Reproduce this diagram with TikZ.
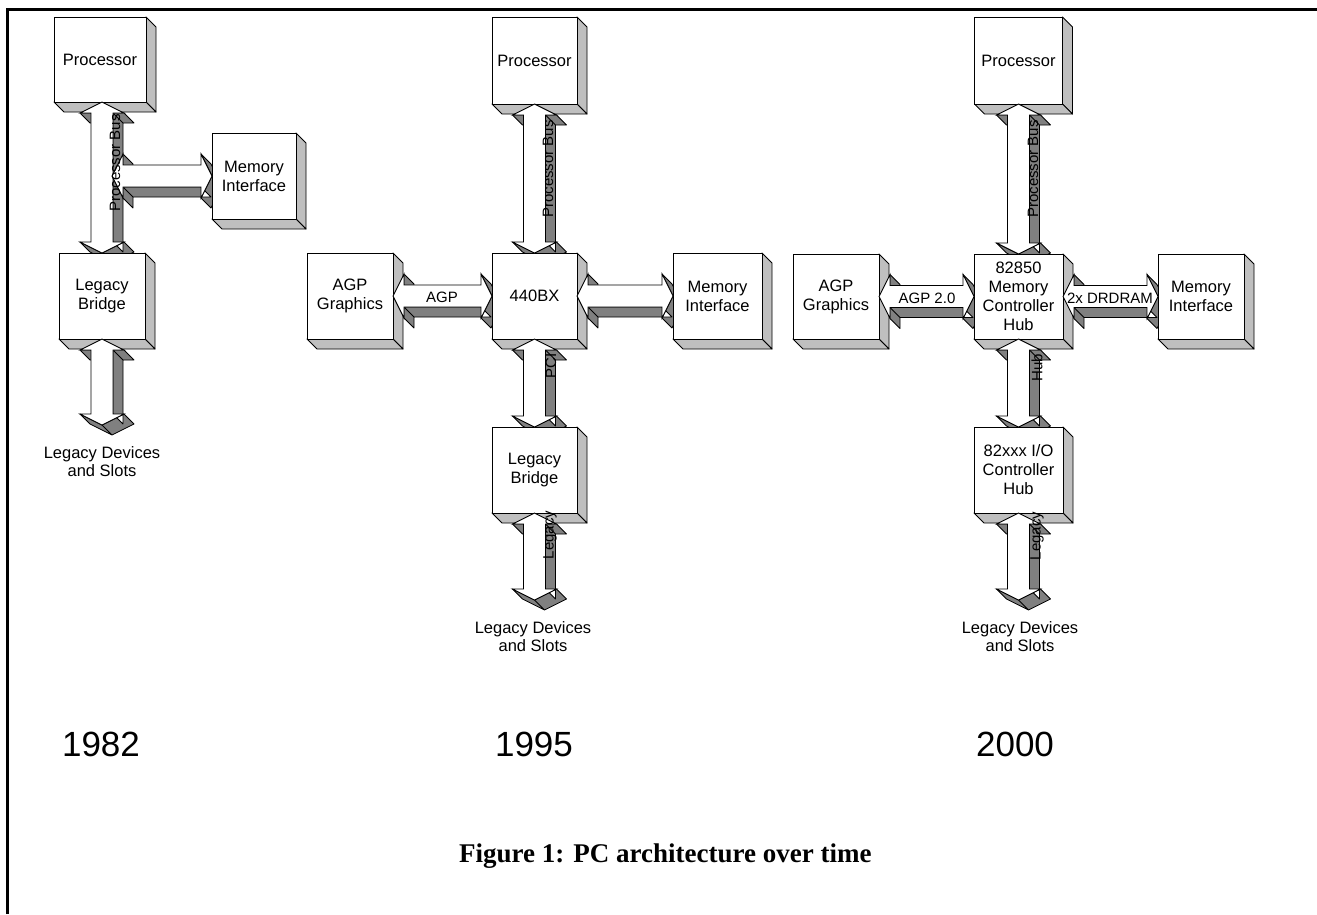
\documentclass[tikz,border=0pt]{standalone}
\usepackage{fontspec}
\setmainfont{Liberation Sans}
\newfontfamily\capfont{Liberation Serif}
\usetikzlibrary{calc}
\pgfdeclarelayer{back}\pgfdeclarelayer{bg}\pgfdeclarelayer{ext}\pgfdeclarelayer{fg}\pgfdeclarelayer{lbl}
\pgfsetlayers{back,bg,ext,main,fg,lbl}
\tikzset{
 pcbox/.style={draw, fill=white, line width=0.9pt, outer sep=0pt, inner sep=0pt, align=center, font=\fontsize{16.5}{19}\selectfont},
 side/.style={fill=black!25, draw=black, line width=0.9pt, line join=round},
 extr/.style={fill=black!50, draw=black, line width=0.8pt, line join=round},
 frontarrow/.style={fill=white, draw=black, line width=0.9pt, line join=miter},
 buslbl/.style={font=\fontsize{15}{17}\selectfont, inner sep=0pt},
 devlbl/.style={font=\fontsize{16.5}{18}\selectfont, align=center, inner sep=0pt},
 yearlbl/.style={font=\fontsize{35}{40}\selectfont, anchor=base, inner sep=0pt},
}
% 3D sides of a box node
\newcommand\boxsides[1]{%
 \begin{pgfonlayer}{bg}
 \filldraw[side] (#1.north east) -- ++(10pt,-10pt) -- ([shift={(10pt,-10pt)}]#1.south east) -- (#1.south east) -- cycle;
 \filldraw[side] (#1.south west) -- ++(10pt,-10pt) -- ([shift={(10pt,-10pt)}]#1.south east) -- (#1.south east) -- cycle;
 \end{pgfonlayer}}
% vertical 3D double arrow: #1 top end, #2 bottom end
\newcommand\vbus[2]{%
 \begin{pgfonlayer}{ext}
 \filldraw[extr] let \p1=(#1), \p2=(#2) in
  (\x2-22pt,\y1-11pt) -- (\x2-11pt,\y1-11pt) -- (\x2-1pt,\y1-21pt) -- (\x2-12pt,\y1-21pt) -- cycle
  (\x2+11pt,\y1-11pt) -- (\x2+22pt,\y1-11pt) -- (\x2+32pt,\y1-21pt) -- (\x2+21pt,\y1-21pt) -- cycle
  (\x2+11pt,\y1-11pt) -- (\x2+11pt,\y2+11pt) -- (\x2+21pt,\y2+1pt) -- (\x2+21pt,\y1-21pt) -- cycle
  (\x2-22pt,\y2+11pt) -- (\x2,\y2) -- (\x2+10pt,\y2-10pt) -- (\x2-12pt,\y2+1pt) -- cycle
  (\x2,\y2) -- (\x2+22pt,\y2+11pt) -- (\x2+32pt,\y2+1pt) -- (\x2+10pt,\y2-10pt) -- cycle;
 \end{pgfonlayer}
 \begin{pgfonlayer}{fg}
 \filldraw[frontarrow] let \p1=(#1), \p2=(#2) in
  (\x2,\y1) -- (\x2+22pt,\y1-11pt) -- (\x2+11pt,\y1-11pt) -- (\x2+11pt,\y2+11pt) -- (\x2+22pt,\y2+11pt)
  -- (\x2,\y2) -- (\x2-22pt,\y2+11pt) -- (\x2-11pt,\y2+11pt) -- (\x2-11pt,\y1-11pt) -- (\x2-22pt,\y1-11pt) -- cycle;
 \end{pgfonlayer}}
% horizontal 3D double arrow: #1 left end, #2 right end
\newcommand\hbus[2]{%
 \begin{pgfonlayer}{ext}
 \filldraw[extr] let \p1=(#1), \p2=(#2) in
  (\x1+11pt,\y2+22pt) -- (\x1+11pt,\y2+11pt) -- (\x1+21pt,\y2+1pt) -- (\x1+21pt,\y2+12pt) -- cycle
  (\x1+11pt,\y2-11pt) -- (\x1+11pt,\y2-22pt) -- (\x1+21pt,\y2-32pt) -- (\x1+21pt,\y2-21pt) -- cycle
  (\x1+11pt,\y2-11pt) -- (\x2-11pt,\y2-11pt) -- (\x2-1pt,\y2-21pt) -- (\x1+21pt,\y2-21pt) -- cycle
  (\x2-11pt,\y2+22pt) -- (\x2,\y2) -- (\x2+10pt,\y2-10pt) -- (\x2-1pt,\y2+12pt) -- cycle
  (\x2,\y2) -- (\x2-11pt,\y2-22pt) -- (\x2-1pt,\y2-32pt) -- (\x2+10pt,\y2-10pt) -- cycle;
 \end{pgfonlayer}
 \begin{pgfonlayer}{fg}
 \filldraw[frontarrow] let \p1=(#1), \p2=(#2) in
  (\x1,\y2) -- (\x1+11pt,\y2+22pt) -- (\x1+11pt,\y2+11pt) -- (\x2-11pt,\y2+11pt) -- (\x2-11pt,\y2+22pt)
  -- (\x2,\y2) -- (\x2-11pt,\y2-22pt) -- (\x2-11pt,\y2-11pt) -- (\x1+11pt,\y2-11pt) -- (\x1+11pt,\y2-22pt) -- cycle;
 \end{pgfonlayer}}

\begin{document}
\begin{tikzpicture}[x=1pt,y=-1pt]
\useasboundingbox (0,0) rectangle (1317,914);
\begin{pgfonlayer}{back}
\fill[white] (0,0) rectangle (1317,914);
\end{pgfonlayer}
% frame
\draw[line width=3pt] (7.5,914) -- (7.5,9.5) -- (1317,9.5);

% ---------------- 1982 ----------------
\node[pcbox, minimum width=92, minimum height=85] (proc1) at (100,59.5) {Processor};
\node[pcbox, minimum width=84, minimum height=86] (mem1) at (254,176) {Memory\\Interface};
\node[pcbox, minimum width=86, minimum height=86] (leg1) at (102,296) {Legacy\\Bridge};
\foreach \b in {proc1,mem1,leg1} {\boxsides{\b}}
\coordinate (pb1) at (112,176);
\coordinate (ld1) at (102,425);
\vbus{proc1.south}{leg1.north}
\hbus{pb1}{mem1.west}
\vbus{leg1.south}{ld1}
\begin{pgfonlayer}{lbl}
\node[buslbl, rotate=90] (lpb1) at (115,163) {Processor Bus};
\end{pgfonlayer}
\node[devlbl] (dev1) at (102,462) {Legacy Devices\\and Slots};
\node[yearlbl] (y1) at (101,756) {1982};

% ---------------- 1995 ----------------
\node[pcbox, minimum width=85, minimum height=87] (proc2) at (534.5,60.5) {Processor};
\node[pcbox, minimum width=86, minimum height=86] (agp2) at (350,296) {AGP\\Graphics};
\node[pcbox, minimum width=85, minimum height=86] (bx2) at (534.5,296) {440BX};
\node[pcbox, minimum width=89, minimum height=86] (mem2) at (717.5,296) {Memory\\Interface};
\node[pcbox, minimum width=85, minimum height=86] (leg2) at (534.5,470) {Legacy\\Bridge};
\foreach \b in {proc2,agp2,bx2,mem2,leg2} {\boxsides{\b}}
\coordinate (ld2) at (534.5,600);
\vbus{proc2.south}{bx2.north}
\hbus{agp2.east}{bx2.west}
\hbus{bx2.east}{mem2.west}
\vbus{bx2.south}{leg2.north}
\vbus{leg2.south}{ld2}
\begin{pgfonlayer}{lbl}
\node[buslbl, rotate=90] (lpb2) at (548,169) {Processor Bus};
\node[buslbl] (lagp2) at (442,297) {AGP};
\node[buslbl, rotate=90] (lpci2) at (551,366) {PCI};
\node[buslbl, rotate=90] (lleg2) at (550,535) {Legacy};
\end{pgfonlayer}
\node[devlbl] (dev2) at (533,637) {Legacy Devices\\and Slots};
\node[yearlbl] (y2) at (534,756) {1995};

% ---------------- 2000 ----------------
\node[pcbox, minimum width=88, minimum height=87] (proc3) at (1018.5,60.5) {Processor};
\node[pcbox, minimum width=86, minimum height=85] (agp3) at (836,296.5) {AGP\\Graphics};
\node[pcbox, minimum width=89, minimum height=85] (mch3) at (1018.5,296.5) {82850\\Memory\\Controller\\Hub};
\node[pcbox, minimum width=86, minimum height=85] (mem3) at (1201,296.5) {Memory\\Interface};
\node[pcbox, minimum width=89, minimum height=86] (ioh3) at (1018.5,470) {82xxx I/O\\Controller\\Hub};
\foreach \b in {proc3,agp3,mch3,mem3,ioh3} {\boxsides{\b}}
\coordinate (ld3) at (1018.5,600);
\vbus{proc3.south}{mch3.north}
\hbus{agp3.east}{mch3.west}
\hbus{mch3.east}{mem3.west}
\vbus{mch3.south}{ioh3.north}
\vbus{ioh3.south}{ld3}
\begin{pgfonlayer}{lbl}
\node[buslbl, rotate=90] (lpb3) at (1033,169) {Processor Bus};
\node[buslbl] (lagp3) at (927,298) {AGP 2.0};
\node[buslbl] (ldr3) at (1110,298) {2x DRDRAM};
\node[buslbl, rotate=90] (lhub3) at (1037,368) {Hub};
\node[buslbl, rotate=90] (lleg3) at (1037,536) {Legacy};
\end{pgfonlayer}
\node[devlbl] (dev3) at (1020,637) {Legacy Devices\\and Slots};
\node[yearlbl] (y3) at (1015,756) {2000};

% caption
\node[anchor=base west, inner sep=0pt, font=\capfont\bfseries\fontsize{27}{30}\selectfont] (cap) at (459,862) {Figure 1: PC architecture over time};
\end{tikzpicture}
\end{document}
